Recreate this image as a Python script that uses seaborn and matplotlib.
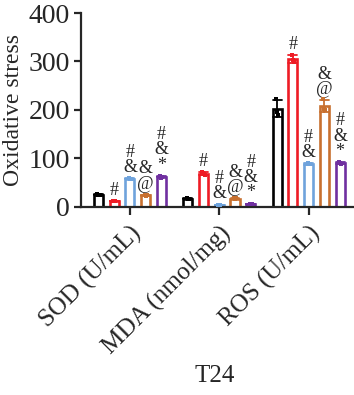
import matplotlib
matplotlib.use("Agg")
import matplotlib.pyplot as plt
import numpy as np
import pandas as pd
import seaborn as sns

# ---- data ----
categories = ["SOD (U/mL)", "MDA (nmol/mg)", "ROS (U/mL)"]
groups = ["G1", "G2", "G3", "G4", "G5"]
colors = ["#000000", "#ee1c25", "#6fa3dc", "#c8702f", "#7030a0"]

# replicate values per group (3 replicates) for each category
sod_vals = [[25, 24, 23], [12, 11, 12], [59, 57, 58], [24, 22, 23], [63, 60, 62]]
mda_vals = [[17, 16, 16], [71, 68, 66], [4, 3, 4], [17, 16, 17], [6, 5, 6]]
ros_vals = [[222, 195, 190], [314, 303, 298], [90, 88, 87], [222, 202, 200], [92, 90, 89]]

sig_labels = ["", "#", "#\n&", "&\n@", "#\n&\n*"]
ylabel = "Oxidative stress"
xlabel = "T24"
yticks = [0, 100, 200, 300, 400]

rows = []
for cat, vals in zip(categories, [sod_vals, mda_vals, ros_vals]):
    for g, reps in zip(groups, vals):
        for v in reps:
            rows.append({"cat": cat, "group": g, "value": v})
df = pd.DataFrame(rows)

sns.set_style("ticks")
plt.rcParams["font.family"] = ["Liberation Serif", "DejaVu Serif"]
plt.rcParams["axes.linewidth"] = 1.6

fig = plt.figure(figsize=(3.54, 3.95), dpi=100)
ax = fig.add_axes([0.229, 0.477, 0.769, 0.490])

sns.barplot(data=df, x="cat", y="value", hue="group", order=categories,
            hue_order=groups, palette=colors, fill=False, width=0.88, gap=0.42,
            linewidth=1.9, errorbar="sd", capsize=0.5,
            err_kws={"linewidth": 1.3}, legend=False, ax=ax)

# replicate points drawn at the bar centres produced by seaborn
bars = sorted(list(ax.patches), key=lambda p: p.get_x())
stats = df.groupby(["cat", "group"])["value"].agg(["mean", "std"])
offsets = [-0.012, 0.0, 0.012]
k = 0
for ci, (cat, vals) in enumerate(zip(categories, [sod_vals, mda_vals, ros_vals])):
    for gi, (g, reps) in enumerate(zip(groups, vals)):
        b = bars[k]
        k += 1
        cx = b.get_x() + b.get_width() / 2
        ax.scatter([cx + o for o in offsets], reps, marker="s", s=5,
                   color=colors[gi], zorder=5, linewidths=0)
        lab = sig_labels[gi]
        if lab:
            top = stats.loc[(cat, g), "mean"] + stats.loc[(cat, g), "std"]
            ax.annotate(lab, (cx, top), xytext=(0, 1.5), textcoords="offset points",
                        ha="center", va="bottom", fontsize=13, linespacing=0.88)

ax.set_ylim(0, 400)
ax.set_xlim(-0.547, 2.5)
ax.set_yticks(yticks)
ax.set_yticklabels([str(t) for t in yticks], fontsize=20)
ax.set_xticks(range(len(categories)))
ax.set_xticklabels(categories, fontsize=18, rotation=45, ha="right",
                   rotation_mode="anchor")
ax.tick_params(axis="y", length=5, width=1.6, pad=3)
ax.tick_params(axis="x", length=6, width=1.6, pad=5)
ax.set_ylabel(ylabel, fontsize=17, labelpad=3)
ax.set_xlabel(xlabel, fontsize=18)
ax.xaxis.set_label_coords(0.49, -0.82)
sns.despine(ax=ax)

fig.savefig("out.png", dpi=100)
